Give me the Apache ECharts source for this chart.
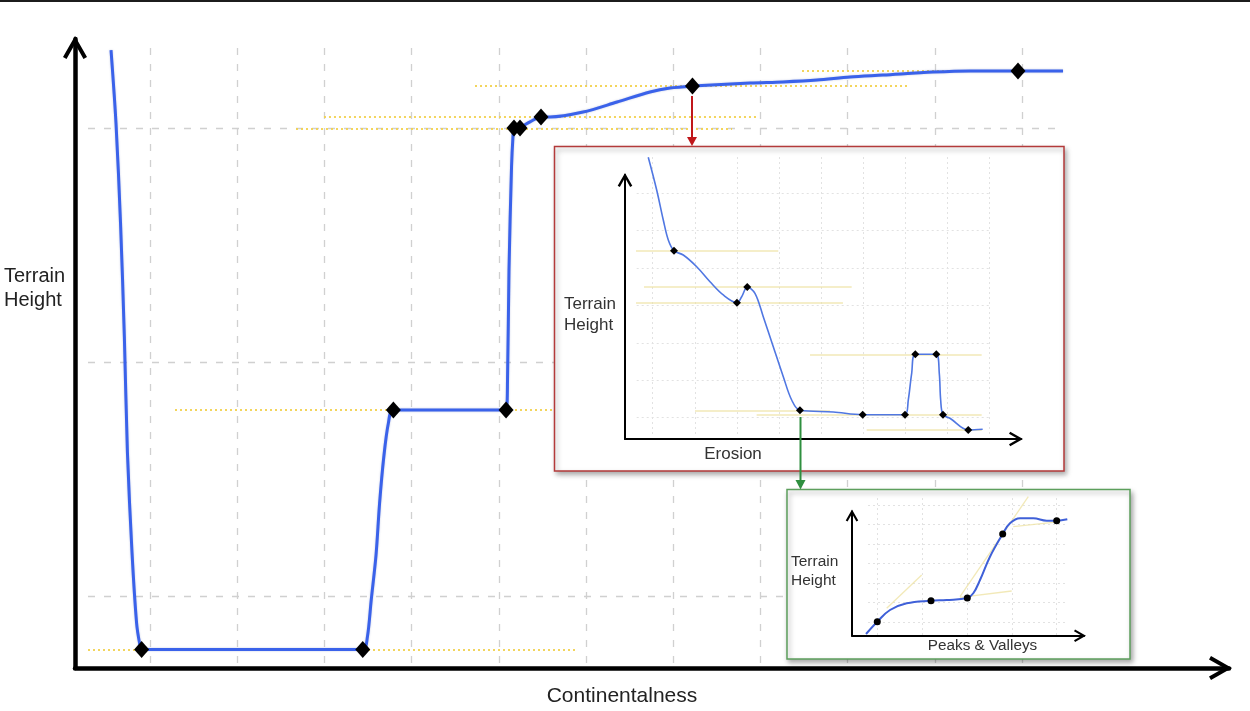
<!DOCTYPE html>
<html>
<head>
<meta charset="utf-8">
<script src="https://cdn.jsdelivr.net/npm/echarts@6/dist/echarts.min.js"></script>
<style>
html,body{margin:0;padding:0;background:#fff;}
#chart{width:1250px;height:711px;}
</style>
</head>
<body>
<div id="chart"></div>
<script>
// ---------- Main chart: Continentalness -> Terrain Height ----------
const contX = [-0.447,-0.390,-0.338,-0.294,-0.259,-0.206,-0.154,-0.120,-0.096,2.440,2.493,2.537,2.592,2.633,2.681,2.734,2.791,4.083,4.100,4.117,4.146,4.163,4.174,4.232,4.358,4.484,4.587,4.966,5.356,5.734,5.963,6.221,6.881,7.259,7.649,8.028,8.406,8.979,9.404,9.954,10.470];
const contH = [2.333,2.021,1.594,1.107,0.615,0.184,-0.115,-0.201,-0.229,-0.229,-0.175,-0.017,0.175,0.397,0.594,0.739,0.795,0.795,0.923,1.393,1.833,1.966,1.996,2.000,2.026,2.047,2.047,2.068,2.111,2.154,2.171,2.179,2.192,2.197,2.205,2.218,2.226,2.239,2.244,2.244,2.244];
const contKeyX = [-0.096,2.440,2.791,4.083,4.174,4.243,4.484,6.221,9.954];
const contKeyH = [-0.229,-0.229,0.795,0.795,2.000,2.000,2.047,2.179,2.244];
const contTanY  = [-0.229,0.795,1.996,2.047,2.179,2.244];
const contTanX0 = [-0.711,0.287,1.674,1.995,3.727,7.477];
const contTanX1 = [4.908,4.622,6.674,6.961,8.693,10.470];

// ---------- Inset 1: Erosion -> Terrain Height ----------
const eroX = [-0.105,0.095,0.252,0.371,0.506,0.727,1.046,1.362,1.678,2.003,2.115,2.248,2.431,2.628,2.866,3.104,3.303,3.500,4.292,4.990,5.996,6.074,6.155,6.241,6.740,6.811,6.844,6.899,7.065,7.500,7.842];
const eroH = [6.963,6.088,5.286,4.751,4.465,4.350,4.037,3.636,3.281,3.075,3.235,3.495,3.326,2.701,1.898,1.096,0.473,0.198,0.152,0.080,0.080,0.473,1.187,1.695,1.695,1.187,0.473,0.080,-0.016,-0.329,-0.310];
const eroKeyX = [0.506,2.003,2.248,3.500,4.990,5.996,6.241,6.740,6.899,7.500];
const eroKeyH = [4.465,3.075,3.495,0.198,0.080,0.080,1.695,1.695,0.080,-0.329];
const eroTanY  = [4.465,3.495,3.067,1.695,0.198,0.080,-0.329];
const eroTanX0 = [-0.397,-0.207,-0.397,3.738,1.005,2.471,5.086];
const eroTanX1 = [2.985,4.729,4.522,7.818,4.213,7.818,7.818];

// ---------- Inset 2: Peaks & Valleys -> Terrain Height ----------
const pvX = [-0.261,-0.009,0.275,0.648,1.191,1.542,2.002,2.136,2.286,2.509,2.793,2.956,3.180,3.477,3.777,4.000,4.237];
const pvH = [-0.615,0.015,0.615,0.959,1.092,1.128,1.231,1.472,2.154,3.349,4.513,5.062,5.318,5.318,5.195,5.195,5.267];
const pvKeyX = [-0.009,1.191,2.002,2.793,4.000];
const pvKeyH = [0.015,1.092,1.231,4.513,5.195];
const pvTanX0 = [0.201,1.839,1.839,3.030];
const pvTanY0 = [0.703,1.297,1.267,4.887];
const pvTanX1 = [0.983,3.365,2.994,4.074];
const pvTanY1 = [2.410,6.426,1.590,5.144];

// ---------- Labels ----------
const mainXName = 'Continentalness';
const yName = 'Terrain\nHeight';
const eroName = 'Erosion';
const pvName = 'Peaks & Valleys';

const FONT = '"Liberation Sans", Arial, sans-serif';
const chev = 'path://M12,0L24,21L20.5,23L12,8L3.5,23L0,21Z';
const zip = (a, b) => a.map((v, i) => [v, b[i]]);

const grids = [], xAxes = [], yAxes = [];
function addGrid(g) { grids.push(g); return grids.length - 1; }
function hidden(gi, min, max) { return {gridIndex: gi, type: 'value', show: false, min: min, max: max}; }

function arrowAxes(rect, lw, size, off, z) {
  const gi = addGrid(rect);
  const line = {show: true, onZero: false, symbol: ['none', chev], symbolSize: size, symbolOffset: [0, off],
                lineStyle: {color: '#000', width: lw}};
  xAxes.push({gridIndex: gi, type: 'value', min: 0, max: 1, z: z, axisLine: line, axisTick: {show: false}, axisLabel: {show: false}, splitLine: {show: false}});
  yAxes.push({gridIndex: gi, type: 'value', min: 0, max: 1, z: z, axisLine: line, axisTick: {show: false}, axisLabel: {show: false}, splitLine: {show: false}});
}
function vLines(rect, n, style, z) {
  const gi = addGrid(rect);
  xAxes.push({gridIndex: gi, type: 'value', min: 0, max: n, interval: 1, z: z, axisLine: {show: false}, axisTick: {show: false}, axisLabel: {show: false},
              splitLine: {show: true, lineStyle: style}});
  yAxes.push(hidden(gi, 0, 1));
}
function hLines(rect, n, style, z) {
  const gi = addGrid(rect);
  yAxes.push({gridIndex: gi, type: 'value', min: 0, max: n, interval: 1, z: z, axisLine: {show: false}, axisTick: {show: false}, axisLabel: {show: false},
              splitLine: {show: true, lineStyle: style}});
  xAxes.push(hidden(gi, 0, 1));
}
function dataGrid(rect, xmin, xmax, ymin, ymax) {
  const gi = addGrid(rect);
  xAxes.push(hidden(gi, xmin, xmax));
  yAxes.push(hidden(gi, ymin, ymax));
  return gi;
}

const mainDash = {color: '#d0d0d0', width: 1.3, type: [7, 9]};
const inDot = {color: '#e2e2e2', width: 1, type: [2, 3]};

arrowAxes({left: 75, top: 39, width: 1154, height: 629}, 4.5, [24, 23], -8.5, 1);
vLines({left: 150, top: 48, width: 872, height: 617}, 10, mainDash, 0);
hLines({left: 88, top: 128, width: 974, height: 468}, 2, mainDash, 0);
const gMain = dataGrid({left: 62.8, top: 34.4, width: 1133.6, height: 655.2}, -1, 12, -0.4, 2.4);

arrowAxes({left: 625, top: 175, width: 396, height: 264}, 2, [15, 14], -5, 6);
vLines({left: 652.7, top: 157, width: 336.6, height: 280}, 8, inDot, 5);
hLines({left: 636.7, top: 193.3, width: 352.6, height: 224.4}, 6, inDot, 5);
const gEro = dataGrid({left: 610.6, top: 118.5, width: 420.8, height: 336.6}, -1, 9, -1, 8);

arrowAxes({left: 852, top: 511.5, width: 232, height: 124.2}, 2, [13, 12], -4, 6);
vLines({left: 877.7, top: 498, width: 179, height: 137}, 4, inDot, 5);
hLines({left: 868, top: 505, width: 200, height: 117}, 6, inDot, 5);
const gPv = dataGrid({left: 832.95, top: 485.5, width: 268.5, height: 156}, -1, 5, -1, 7);

const series = [
  {type: 'lines', coordinateSystem: 'cartesian2d', xAxisIndex: gMain, yAxisIndex: gMain, z: 2, silent: true,
   lineStyle: {color: '#f2d04a', width: 2, type: [2, 3], opacity: 0.9},
   data: contTanY.map((y, i) => ({coords: [[contTanX0[i], y], [contTanX1[i], y]]}))},
  {type: 'line', xAxisIndex: gMain, yAxisIndex: gMain, z: 3, data: zip(contX, contH), showSymbol: false,
   smooth: 0.3, clip: false,
   lineStyle: {color: '#3a62ea', width: 3, shadowColor: 'rgba(70,90,170,0.35)', shadowBlur: 2}},
  {type: 'scatter', xAxisIndex: gMain, yAxisIndex: gMain, z: 4, data: zip(contKeyX, contKeyH),
   symbol: 'diamond', symbolSize: [15, 17], itemStyle: {color: '#000', opacity: 1}},

  {type: 'lines', coordinateSystem: 'cartesian2d', xAxisIndex: gEro, yAxisIndex: gEro, z: 6, silent: true,
   lineStyle: {color: '#efe3a6', width: 1.5, opacity: 0.8},
   data: eroTanY.map((y, i) => ({coords: [[eroTanX0[i], y], [eroTanX1[i], y]]}))},
  {type: 'line', xAxisIndex: gEro, yAxisIndex: gEro, z: 7, data: zip(eroX, eroH), showSymbol: false,
   smooth: 0.35, clip: false, lineStyle: {color: '#5077e2', width: 1.6}},
  {type: 'scatter', xAxisIndex: gEro, yAxisIndex: gEro, z: 8, data: zip(eroKeyX, eroKeyH),
   symbol: 'diamond', symbolSize: [8, 8], itemStyle: {color: '#000', opacity: 1}},

  {type: 'lines', coordinateSystem: 'cartesian2d', xAxisIndex: gPv, yAxisIndex: gPv, z: 6, silent: true,
   lineStyle: {color: '#efe3a6', width: 1.3, opacity: 0.8},
   data: pvTanX0.map((x, i) => ({coords: [[x, pvTanY0[i]], [pvTanX1[i], pvTanY1[i]]]}))},
  {type: 'line', xAxisIndex: gPv, yAxisIndex: gPv, z: 7, data: zip(pvX, pvH), showSymbol: false,
   smooth: 0.4, clip: false, lineStyle: {color: '#3f60d8', width: 2}},
  {type: 'scatter', xAxisIndex: gPv, yAxisIndex: gPv, z: 8, data: zip(pvKeyX, pvKeyH),
   symbol: 'circle', symbolSize: 7, itemStyle: {color: '#000', opacity: 1}}
];

function txt(x, y, text, size, align, color) {
  return {type: 'text', x: x, y: y, z: 20,
          style: {text: text, fontSize: size, fontFamily: FONT, fill: color || '#222', align: align || 'left',
                  verticalAlign: 'top', lineHeight: Math.round(size * 1.22)}};
}
const shadow = {shadowBlur: 5, shadowOffsetX: 2, shadowOffsetY: 3, shadowColor: 'rgba(0,0,0,0.35)'};

const graphic = [
  {type: 'rect', shape: {x: 0, y: 0, width: 1250, height: 2}, style: {fill: '#1c1c1c'}, z: 20},
  {type: 'rect', shape: {x: 554.5, y: 146.5, width: 509.5, height: 324.5},
   style: Object.assign({fill: '#fff', stroke: '#b33a3a', lineWidth: 1.5}, shadow), z: 4},
  {type: 'rect', shape: {x: 787, y: 489.5, width: 343, height: 169.5},
   style: Object.assign({fill: '#fff', stroke: '#5c9f5c', lineWidth: 1.5}, shadow), z: 4},
  {type: 'line', shape: {x1: 692, y1: 96, x2: 692, y2: 139}, style: {stroke: '#c0171b', lineWidth: 2}, z: 20},
  {type: 'polygon', shape: {points: [[687, 137], [697, 137], [692, 146]]}, style: {fill: '#c0171b'}, z: 20},
  {type: 'line', shape: {x1: 800.5, y1: 417, x2: 800.5, y2: 482}, style: {stroke: '#2f8f3f', lineWidth: 2}, z: 20},
  {type: 'polygon', shape: {points: [[795.5, 480], [805.5, 480], [800.5, 489.5]]}, style: {fill: '#2f8f3f'}, z: 20},
  txt(4, 264, yName, 20),
  txt(622, 683, mainXName, 21, 'center'),
  txt(564, 294, yName, 17, 'left', '#333'),
  txt(733, 444, eroName, 17, 'center', '#333'),
  txt(791, 552.5, yName, 15.5, 'left', '#333'),
  txt(982.5, 636.5, pvName, 15.3, 'center', '#333')
];

const chart = echarts.init(document.getElementById('chart'), null, {renderer: 'canvas'});
chart.setOption({
  animation: false,
  backgroundColor: '#fff',
  grid: grids,
  xAxis: xAxes,
  yAxis: yAxes,
  series: series,
  graphic: graphic
});
</script>
</body>
</html>
